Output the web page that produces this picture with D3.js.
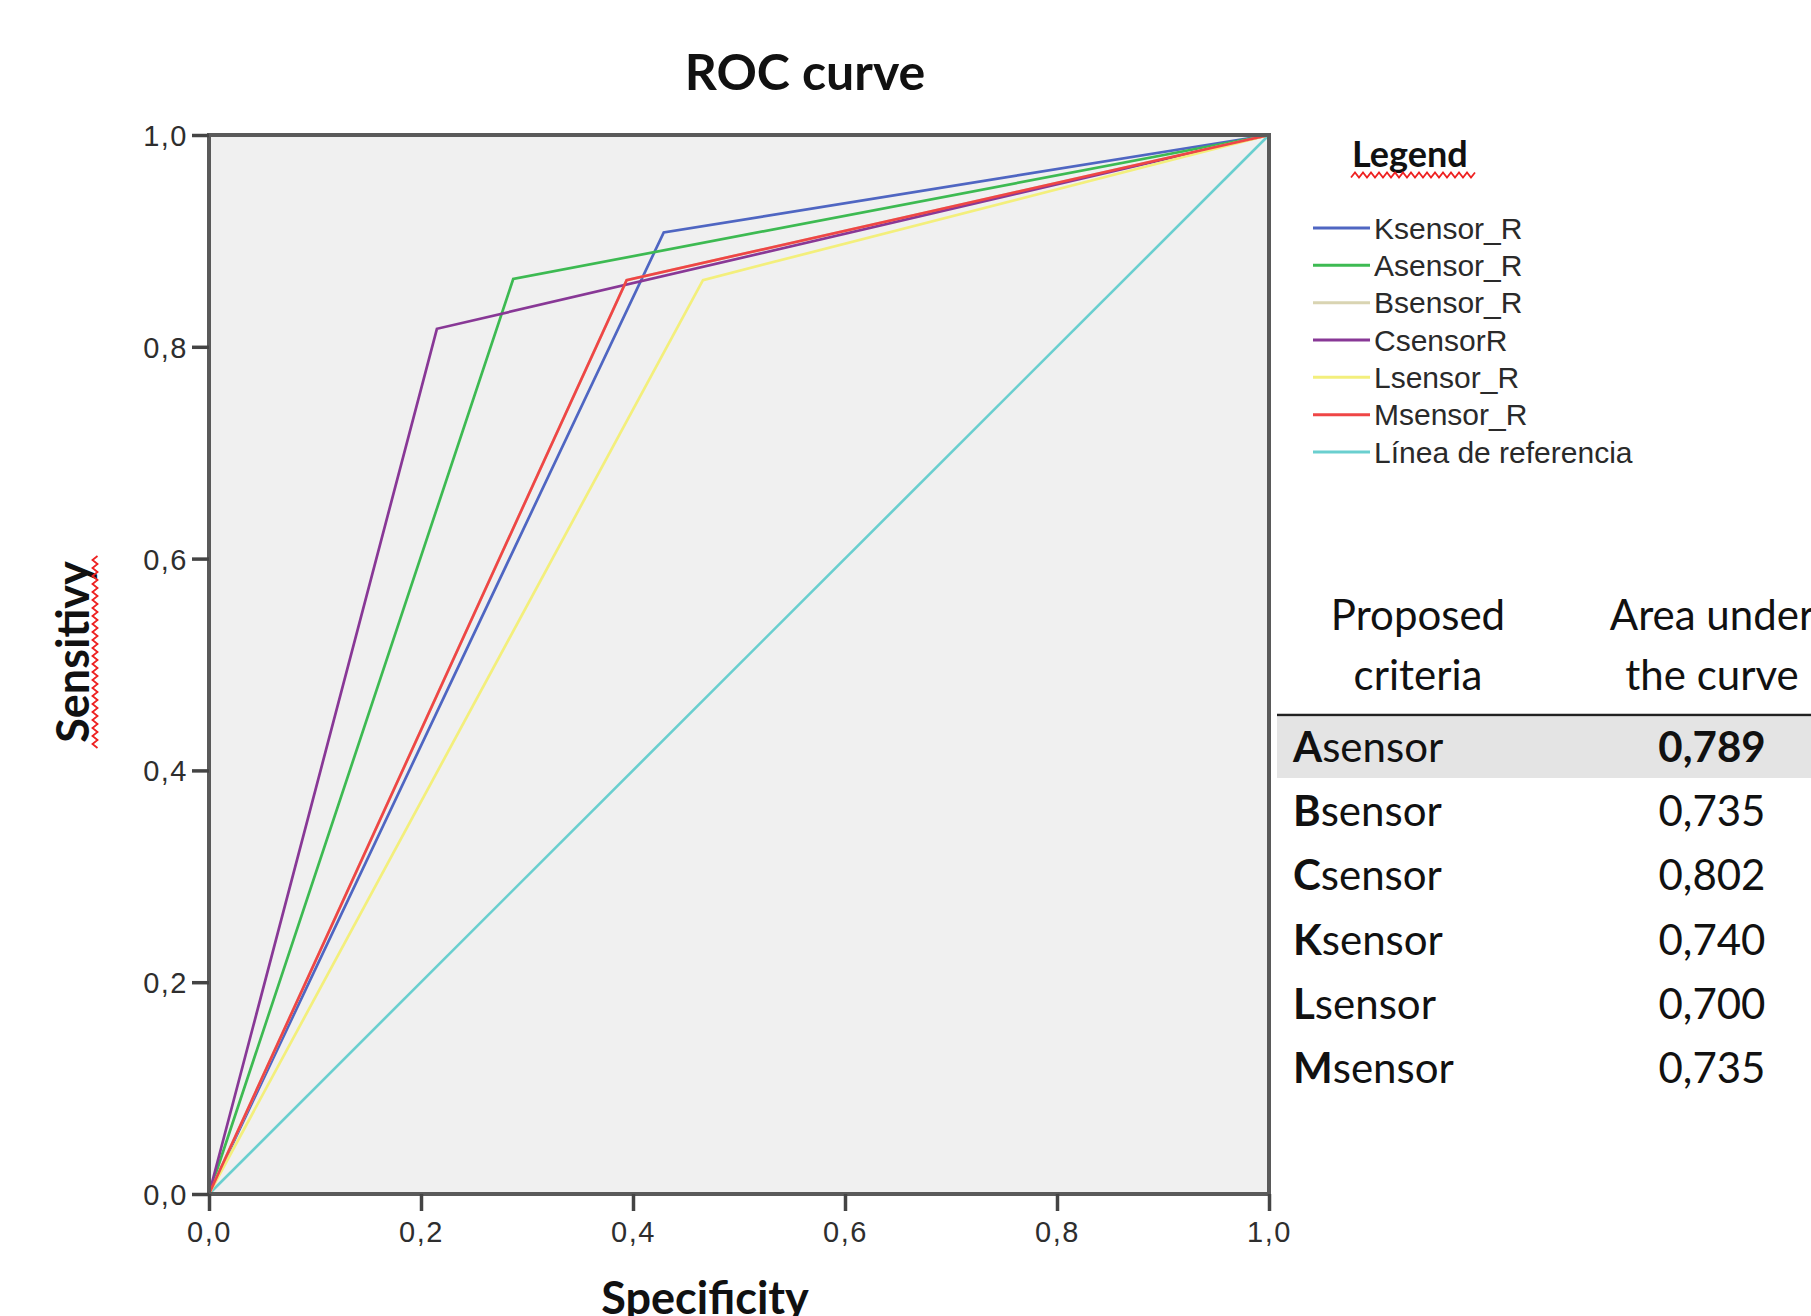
<!DOCTYPE html>
<html>
<head>
<meta charset="utf-8">
<script src="https://cdn.jsdelivr.net/npm/d3@7"></script>
<style>
  body { margin: 0; background: #fff; overflow: hidden; }
  .tick text { font-family: "Liberation Sans", Arial, sans-serif; }
</style>
</head>
<body>
<svg id="chart"></svg>
<script>
// ROC knee points (1 - specificity, sensitivity)
const seriesNames = ["Ksensor_R", "Asensor_R", "Bsensor_R", "CsensorR", "Lsensor_R", "Msensor_R"];
const seriesColors = ["#4f66c2", "#3dba52", "#d9d4b2", "#883896", "#f3ef7c", "#ef4646"];
const kneeFpr = [0.429, 0.287, 0.394, 0.215, 0.466, 0.394];
const kneeTpr = [0.908, 0.864, 0.863, 0.817, 0.863, 0.863];
const refName = "Línea de referencia";
const refColor = "#6acfcf";
const tickValues = [0, 0.2, 0.4, 0.6, 0.8, 1.0];

// table on the right
const criteriaLetters = ["A", "B", "C", "K", "L", "M"];
const aucValues = [0.789, 0.735, 0.802, 0.740, 0.700, 0.735];
const highlightRow = 0;

const width = 1811;
const height = 1316;
const plot = { left: 209, top: 135, w: 1060, h: 1059 };

const locale = d3.formatLocale({ decimal: ",", thousands: ".", grouping: [3], currency: ["", "€"] });
const fmt1 = locale.format(".1f");
const fmt3 = locale.format(".3f");

const svg = d3.select("#chart")
  .attr("width", width)
  .attr("height", height);

const x = d3.scaleLinear().domain([0, 1]).range([plot.left, plot.left + plot.w]);
const y = d3.scaleLinear().domain([0, 1]).range([plot.top + plot.h, plot.top]);

// plot background
svg.append("rect")
  .attr("x", x(0)).attr("y", y(1))
  .attr("width", x(1) - x(0)).attr("height", y(0) - y(1))
  .attr("fill", "#f0f0f0");

// reference line first, then curves in legend order
const line = d3.line().x(d => x(d[0])).y(d => y(d[1]));
svg.append("path")
  .attr("d", line([[0, 0], [1, 1]]))
  .attr("fill", "none")
  .attr("stroke", refColor)
  .attr("stroke-width", 2.6);

seriesNames.forEach((name, i) => {
  svg.append("path")
    .attr("d", line([[0, 0], [kneeFpr[i], kneeTpr[i]], [1, 1]]))
    .attr("fill", "none")
    .attr("stroke", seriesColors[i])
    .attr("stroke-width", 2.7)
    .attr("stroke-linejoin", "miter");
});

// frame
svg.append("rect")
  .attr("x", x(0)).attr("y", y(1))
  .attr("width", x(1) - x(0)).attr("height", y(0) - y(1))
  .attr("fill", "none")
  .attr("stroke", "#5a5a5a")
  .attr("stroke-width", 4);

// axes
const yAxis = svg.append("g")
  .attr("transform", `translate(${x(0)},0)`)
  .call(d3.axisLeft(y).tickValues(tickValues).tickFormat(fmt1).tickSize(17).tickPadding(4));
const xAxis = svg.append("g")
  .attr("transform", `translate(0,${y(0)})`)
  .call(d3.axisBottom(x).tickValues(tickValues).tickFormat(fmt1).tickSize(17).tickPadding(10));

[yAxis, xAxis].forEach(g => {
  g.select(".domain").remove();
  g.selectAll(".tick line").attr("stroke", "#444").attr("stroke-width", 3.5);
  g.selectAll(".tick text")
    .attr("fill", "#2e2e2e")
    .style("font-size", "29px")
    .style("letter-spacing", "1.5px");
});
yAxis.selectAll(".tick text").attr("dy", "0.36em");

// wavy red underline helper (spell-check squiggle)
function squiggle(x0, x1, yy, amp, step) {
  const pts = [];
  let k = 0;
  for (let xx = x0; xx <= x1; xx += step / 2, k++) pts.push([xx, yy + (k % 2 ? -amp : amp)]);
  return d3.line()(pts);
}

// title
svg.append("text")
  .attr("x", 805).attr("y", 90)
  .attr("text-anchor", "middle")
  .style("font-family", "Lato, sans-serif")
  .style("font-weight", "bold")
  .style("font-size", "50px")
  .attr("fill", "#111")
  .text("ROC curve");

// x axis title
svg.append("text")
  .attr("x", 705).attr("y", 1314)
  .attr("text-anchor", "middle")
  .style("font-family", "Lato, sans-serif")
  .style("font-weight", "bold")
  .style("font-size", "45px")
  .attr("fill", "#111")
  .text("Specificity");

// y axis title
const yTitle = svg.append("g").attr("transform", "translate(89,652) rotate(-90)");
yTitle.append("text")
  .attr("x", 0).attr("y", 0)
  .attr("text-anchor", "middle")
  .style("font-family", "Lato, sans-serif")
  .style("font-weight", "bold")
  .style("font-size", "45px")
  .attr("fill", "#111")
  .text("Sensitivy");
yTitle.append("path")
  .attr("d", squiggle(-96, 98, 6, 2.5, 8))
  .attr("fill", "none")
  .attr("stroke", "#ee2222")
  .attr("stroke-width", 1.8);

// legend
svg.append("text")
  .attr("x", 1352).attr("y", 167)
  .style("font-family", "Lato, sans-serif")
  .style("font-weight", "bold")
  .style("font-size", "36px")
  .attr("fill", "#111")
  .text("Legend");
svg.append("path")
  .attr("d", squiggle(1351, 1477, 175, 2.5, 8))
  .attr("fill", "none")
  .attr("stroke", "#ee2222")
  .attr("stroke-width", 1.8);

const legendNames = seriesNames.concat([refName]);
const legendColors = seriesColors.concat([refColor]);
const ly = d3.scaleLinear().domain([0, legendNames.length - 1]).range([228, 452]);
const legend = svg.append("g")
  .selectAll("g")
  .data(legendNames)
  .join("g")
  .attr("transform", (d, i) => `translate(0,${ly(i)})`);
legend.append("line")
  .attr("x1", 1313).attr("x2", 1370)
  .attr("stroke", (d, i) => legendColors[i])
  .attr("stroke-width", 3);
legend.append("text")
  .attr("x", 1374).attr("dy", "0.36em")
  .style("font-family", "Liberation Sans, Arial, sans-serif")
  .style("font-size", "30px")
  .attr("fill", "#2a2a2a")
  .text(d => d);

// table
const table = svg.append("g").style("font-family", "Lato, sans-serif").style("font-size", "42px");
const colLabel = 1418;
const colValue = 1712;
[["Proposed", 630], ["criteria", 690]].forEach(([t, yy]) =>
  table.append("text").attr("x", colLabel).attr("y", yy).attr("text-anchor", "middle").attr("fill", "#111").text(t));
[["Area under", 630], ["the curve", 690]].forEach(([t, yy]) =>
  table.append("text").attr("x", colValue).attr("y", yy).attr("text-anchor", "middle").attr("fill", "#111").text(t));

const ry = d3.scaleLinear().domain([0, criteriaLetters.length - 1]).range([762, 1083]);
table.append("rect")
  .attr("x", 1277).attr("y", ry(highlightRow) - 45)
  .attr("width", width - 1277).attr("height", 61)
  .attr("fill", "#e4e4e4");
table.append("line")
  .attr("x1", 1277).attr("x2", width)
  .attr("y1", 715).attr("y2", 715)
  .attr("stroke", "#222").attr("stroke-width", 2.5);

const rows = table.selectAll("g.row")
  .data(criteriaLetters)
  .join("g")
  .attr("class", "row")
  .attr("transform", (d, i) => `translate(0,${ry(i)})`);
const label = rows.append("text").attr("x", 1293).attr("fill", "#111");
label.append("tspan").style("font-weight", "bold").text(d => d);
label.append("tspan").text("sensor");
rows.append("text")
  .attr("x", colValue)
  .attr("text-anchor", "middle")
  .attr("fill", "#111")
  .style("font-weight", (d, i) => i === highlightRow ? "bold" : "normal")
  .text((d, i) => fmt3(aucValues[i]));
</script>
</body>
</html>
